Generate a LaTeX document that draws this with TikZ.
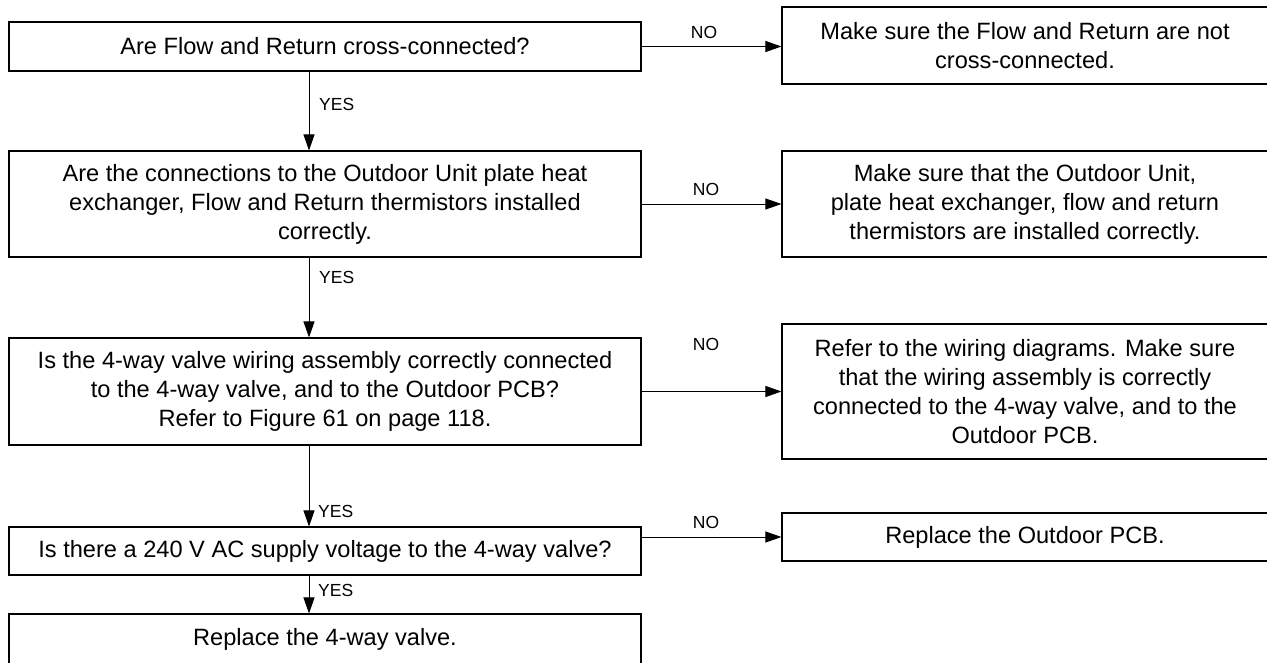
\documentclass[tikz,border=0pt]{standalone}
\usepackage{fontspec}
\setmainfont{Liberation Sans}
\usetikzlibrary{arrows.meta}
\begin{document}
\begin{tikzpicture}[x=1pt,y=-1pt,
  box/.style={draw=black, line width=1.1pt, rectangle, align=center, inner sep=0pt,
              font=\fontsize{23.6}{29}\selectfont},
  lbox/.style={box, minimum width=632pt},
  rbox/.style={box, minimum width=486pt},
  lbl/.style={font=\fontsize{17.5}{20}\selectfont, inner sep=0pt},
  arr/.style={-{Triangle[length=16pt,width=11pt]}, line width=1pt}]
\useasboundingbox (0,0) rectangle (1267,662);
\clip (0,0) rectangle (1267,662);
\fill[white] (0,0) rectangle (1267,662);

% left column
\node[lbox, minimum height=49pt] (b1) at (325,46.5) {Are Flow and Return cross-connected?};
\node[lbox, minimum height=106pt] (b2) at (325,204) {Are the connections to the Outdoor Unit plate heat\\exchanger, Flow and Return thermistors installed\\correctly.};
\node[lbox, minimum height=107pt] (b3) at (325,391.5) {Is the 4-way valve wiring assembly correctly connected\\to the 4-way valve, and to the Outdoor PCB?\\Refer to Figure 61 on page 118.};
\node[lbox, minimum height=48pt] (b4) at (325,551) {Is there a 240 V AC supply voltage to the 4-way valve?};
\node[lbox, minimum height=50pt] (b5) at (325,639) {Replace the 4-way valve.};

% right column
\node[rbox, minimum height=77pt] (r1) at (1025,45.5) {Make sure the Flow and Return are not\\cross-connected.};
\node[rbox, minimum height=106pt] (r2) at (1025,204) {Make sure that the Outdoor Unit,\\plate heat exchanger, flow and return\\thermistors are installed correctly.};
\node[rbox, minimum height=135pt] (r3) at (1025,391.5) {Refer to the wiring diagrams. Make sure\\that the wiring assembly is correctly\\connected to the 4-way valve, and to the\\Outdoor PCB.};
\node[rbox, minimum height=48pt] (r4) at (1025,537) {Replace the Outdoor PCB.};

% vertical YES arrows
\coordinate (ax) at (309,0);
\draw[arr] (b1.south -| ax) -- (b2.north -| ax);
\draw[arr] (b2.south -| ax) -- (b3.north -| ax);
\draw[arr] (b3.south -| ax) -- (b4.north -| ax);
\draw[arr] (b4.south -| ax) -- (b5.north -| ax);

% horizontal NO arrows
\draw[arr] (b1.east) -- (b1.east -| r1.west);
\draw[arr] (b2.east) -- (r2.west);
\draw[arr] (b3.east) -- (r3.west);
\draw[arr] (r4.west -| b4.east) -- (r4.west);

% labels
\node[lbl, anchor=west] (y1) at (319,104) {YES};
\node[lbl, anchor=west] (y2) at (319,277) {YES};
\node[lbl, anchor=west] (y3) at (318,511) {YES};
\node[lbl, anchor=west] (y4) at (318,590) {YES};
\node[lbl] (n1) at (704,32) {NO};
\node[lbl] (n2) at (706,189) {NO};
\node[lbl] (n3) at (706,344) {NO};
\node[lbl] (n4) at (706,522) {NO};
\end{tikzpicture}
\end{document}
